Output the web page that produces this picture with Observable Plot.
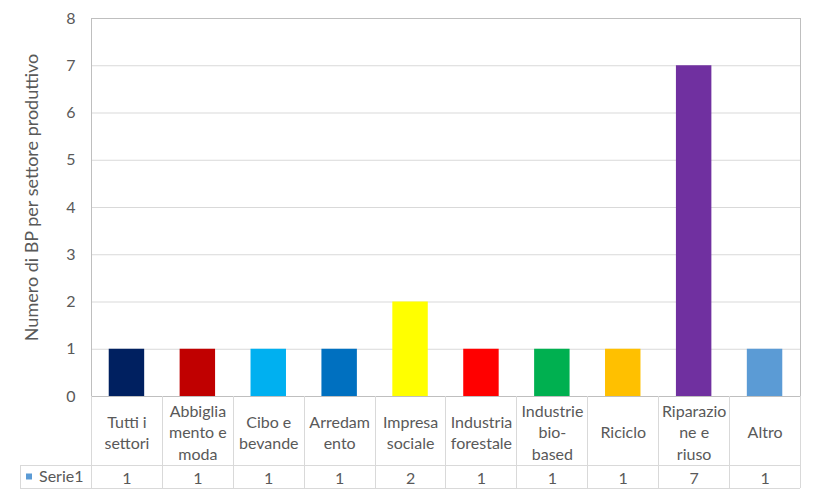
<!DOCTYPE html>
<html><head><meta charset="utf-8">
<script src="https://cdn.jsdelivr.net/npm/d3@7"></script>
<script src="https://cdn.jsdelivr.net/npm/@observablehq/plot@0.6"></script>
<style>
body{margin:0;background:#fff;font-family:Lato,"Open Sans",sans-serif;}
</style></head>
<body><div id="chart"></div>
<script>
const categories = ["Tutti i settori","Abbigliamento e moda","Cibo e bevande","Arredamento","Impresa sociale","Industria forestale","Industrie bio-based","Riciclo","Riparazione e riuso","Altro"];
const labels = ["Tutti i\nsettori","Abbiglia\nmento e\nmoda","Cibo e\nbevande","Arredam\nento","Impresa\nsociale","Industria\nforestale","Industrie\nbio-\nbased","Riciclo","Riparazio\nne e\nriuso","Altro"];
const values = [1,1,1,1,2,1,1,1,7,1];
const colors = ["#002060","#C00000","#00B0F0","#0070C0","#FFFF00","#FF0000","#00B050","#FFC000","#7030A0","#5B9BD5"];
const seriesName = "Serie1";
const yTicks = [0,1,2,3,4,5,6,7,8];
const yLabel = "Numero di BP per settore produttivo";

const data = categories.map((c,i)=>({cat:c,label:labels[i],value:values[i],color:colors[i]}));

const tableLines = (index, scales, vals, dims) => {
  const g = d3.create("svg:g");
  const xs = categories.map(c => scales.x(c));
  const step = xs[1] - xs[0];
  const bw = step * 0.5;
  const centers = xs.map(x => x + bw/2);
  const y0 = scales.y(0);
  const rowTop = y0 + 69, rowBot = y0 + 92;
  const right = dims.width - dims.marginRight;
  const col = "#d9d9d9";
  for (let i = 0; i <= categories.length; i++) {
    const x = Math.round(centers[0] - step/2 + i*step) + 0.5;
    g.append("line").attr("x1",x).attr("x2",x).attr("y1",y0).attr("y2",rowBot).attr("stroke",col);
  }
  [rowTop, rowBot].forEach(y => g.append("line").attr("x1",20).attr("x2",right).attr("y1",y+0.5).attr("y2",y+0.5).attr("stroke",col));
  g.append("line").attr("x1",20.5).attr("x2",20.5).attr("y1",rowTop).attr("y2",rowBot).attr("stroke",col);
  g.append("rect").attr("x",26).attr("y",(rowTop+rowBot)/2-3).attr("width",6).attr("height",6).attr("fill","#5B9BD5");
  g.append("text").attr("x",39).attr("y",(rowTop+rowBot)/2).attr("dy","0.35em").attr("text-anchor","start")
    .attr("font-size",16).attr("fill","#595959").text(seriesName);
  return g.node();
};

const chart = Plot.plot({
  width: 817,
  height: 499,
  marginLeft: 91,
  marginRight: 17,
  marginTop: 18,
  marginBottom: 103,
  style: {fontFamily: "Lato, 'Open Sans', sans-serif", fontSize: "16px", color: "#595959", background: "#fff"},
  x: {domain: categories, paddingInner: 0.5, paddingOuter: 0.25, round: false, axis: null},
  y: {domain: [0, 8], axis: null},
  marks: [
    Plot.gridY(yTicks.slice(1, -1), {stroke: "#d9d9d9", strokeOpacity: 1}),
    Plot.barY(data, {x: "cat", y: "value", fill: "color"}),
    Plot.frame({stroke: "#bfbfbf"}),
    Plot.axisY(yTicks, {tickSize: 0, tickPadding: 16, fontSize: 16, fill: "#595959", label: null}),
    Plot.text([yLabel], {frameAnchor: "left", textAnchor: "middle", rotate: -90, dx: -59, dy: -10, fontSize: 18, fill: "#595959"}),
    Plot.text(data, {x: "cat", y: () => 0, text: "label", dy: 35, lineHeight: 1.35, fontSize: 16, fill: "#595959"}),
    Plot.text(data, {x: "cat", y: () => 0, text: d => String(d.value), dy: 82, fontSize: 16, fill: "#595959"}),
    tableLines
  ]
});
document.getElementById("chart").appendChild(chart);
</script>
</body></html>
